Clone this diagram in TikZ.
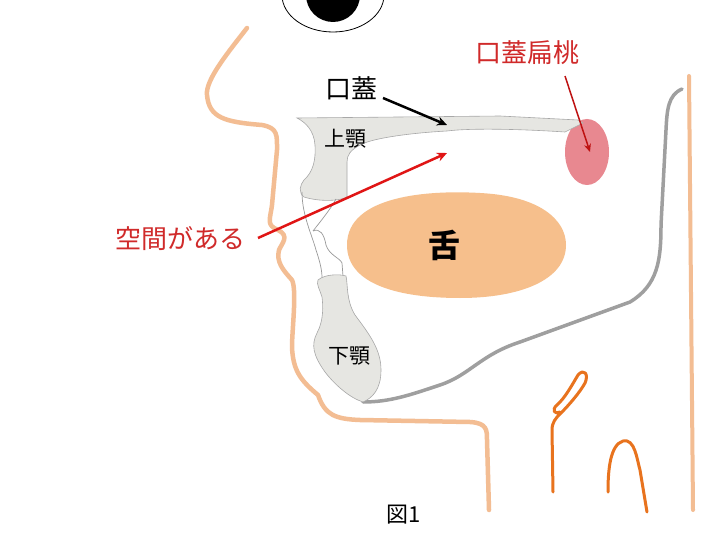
\documentclass[tikz,border=0pt]{standalone}
\usepackage{fontspec}
\newfontfamily\jp{Noto Sans CJK JP}
\usetikzlibrary{arrows.meta}
\definecolor{peach}{HTML}{F3BD93}
\definecolor{tongue}{HTML}{F6BF8C}
\definecolor{bone}{HTML}{E6E6E2}
\definecolor{boneline}{HTML}{A8A8A8}
\definecolor{lblred}{HTML}{D02A2A}
\definecolor{arrred}{HTML}{E01515}
\definecolor{orng}{HTML}{E8731E}
\definecolor{tonsil}{HTML}{E67C85}
\tikzset{
  skin/.style={draw=peach,line width=4.5pt,line cap=round,line join=round},
  bonefill/.style={fill=bone,draw=boneline,line width=0.6pt},
  tooth/.style={draw=gray!80,line width=0.7pt},
  pharynx/.style={draw=gray!75,line width=3.5pt,line cap=round},
  cord/.style={draw=orng,line width=3pt,line cap=round,line join=round},
  lbl/.style={font=\jp,inner sep=0pt},
  redlbl/.style={lbl,text=lblred,font=\jp\fontsize{26}{26}\selectfont},
}
\begin{document}
\begin{tikzpicture}[x=1pt,y=-1pt]
\useasboundingbox (0,0) rectangle (720,540);
\clip (0,0) rectangle (720,540);
\fill[white] (0,0) rectangle (720,540);
% eye
\draw[line width=0.8pt,fill=white] (333,-5) ellipse [x radius=51,y radius=37];
\fill[black] (333,-5) ellipse [x radius=27,y radius=27];
% face profile
\draw[skin] (247,28) .. controls (230,50) and (205,80) .. (207,95)
  .. controls (209,118) and (225,122) .. (262,125)
  .. controls (278,128) and (277,135) .. (277,150)
  -- (272,205) .. controls (270,220) and (266,225) .. (278,230)
  .. controls (290,236) and (282,243) .. (279,250)
  .. controls (276,262) and (283,270) .. (292,280)
  .. controls (297,290) and (292,330) .. (292,347)
  .. controls (293,370) and (300,380) .. (318,395)
  .. controls (325,415) and (335,419) .. (360,420)
  -- (470,422) .. controls (487,423) and (487,430) .. (487,440)
  -- (489,510);
% right vertical line
\draw[skin,line width=4pt] (689,76) -- (693,510);
% pharynx grey
\draw[pharynx] (682,89) .. controls (668,95) and (667,110) .. (666,130)
  -- (661,225) .. controls (661,260) and (658,285) .. (630,302)
  -- (520,342) .. controls (480,355) and (470,375) .. (440,385)
  .. controls (410,395) and (390,402) .. (363,402);
% tonsil
\fill[tonsil,opacity=0.9] (587,152) ellipse [x radius=22,y radius=33];
% maxilla
\path[bonefill] (297,118) -- (500,116) -- (578,120) -- (583,123) -- (565,132)
  .. controls (520,129) and (470,128) .. (447,131)
  .. controls (410,133) and (375,138) .. (362,144)
  .. controls (350,150) and (347,155) .. (347,162)
  -- (347,197) .. controls (340,201) and (320,202) .. (304,197)
  .. controls (298,192) and (300,185) .. (304,180)
  .. controls (313,172) and (316,160) .. (315,145)
  .. controls (314,130) and (305,122) .. (297,118) -- cycle;
% teeth
\draw[tooth] (302,192) .. controls (302,215) and (312,235) .. (316,250)
  .. controls (320,262) and (322,270) .. (322,278);
\draw[tooth] (336,199) .. controls (330,210) and (320,222) .. (313,231);
\draw[tooth] (313,231) .. controls (320,228) and (324,234) .. (326,245)
  .. controls (329,255) and (340,258) .. (342,263) -- (343,276);
% mandible
\path[bonefill] (318,280) .. controls (325,274) and (340,274) .. (346,276)
  .. controls (348,285) and (346,300) .. (355,315)
  .. controls (370,335) and (381,350) .. (381,370)
  .. controls (381,390) and (372,398) .. (363,402)
  .. controls (350,398) and (335,385) .. (325,372)
  .. controls (313,355) and (311,345) .. (317,333)
  .. controls (324,320) and (323,305) .. (322,297)
  .. controls (320,290) and (316,284) .. (318,280) -- cycle;
% tongue
\fill[tongue] (347,245) .. controls (347,195) and (430,190) .. (480,193)
  .. controls (540,196) and (566,220) .. (566,245)
  .. controls (566,280) and (520,298) .. (460,298)
  .. controls (400,298) and (347,285) .. (347,245) -- cycle;
% epiglottis / cords
\draw[cord] (553,492) -- (552,430) .. controls (552,422) and (556,418) .. (560,414)
  .. controls (570,404) and (580,392) .. (585,383)
  .. controls (589,374) and (584,368) .. (578,375)
  .. controls (572,385) and (565,398) .. (557,405)
  .. controls (551,410) and (555,415) .. (560,412);
\draw[cord] (608,492) .. controls (608,470) and (610,445) .. (623,441)
  .. controls (635,438) and (637,460) .. (640,470) -- (647,512);
% labels
\node[lbl,font=\jp\fontsize{21}{21}\selectfont] (maxlbl) at (345,139) {上顎};
\node[lbl,font=\jp\fontsize{21}{21}\selectfont] (mandlbl) at (349,356) {下顎};
\node[lbl,font=\jp\bfseries\fontsize{32}{32}\selectfont] (tonguelbl) at (444,245) {舌};
\node[lbl,font=\jp\fontsize{26}{26}\selectfont] (palatelbl) at (351,88) {口蓋};
\node[redlbl] (spacelbl) at (180,239) {空間がある};
\node[redlbl] (tonsillbl) at (527,53) {口蓋扁桃};
\node[lbl,font=\jp\fontsize{22}{22}\selectfont] (fig) at (404,515) {図1};
\coordinate (palatept) at (447,125);
\coordinate (spacept) at (447,153);
\coordinate (tonsilpt) at (590,152);
% arrows
\draw[line width=2.5pt,-{Stealth[length=10pt,width=9pt]}] (383,98) -- (palatept);
\draw[arrred,line width=2.5pt,-{Stealth[length=10pt,width=9pt]}] (258,238) -- (spacept);
\draw[arrred!85!black,line width=1.5pt,-{Stealth[length=8pt,width=7pt]}] (565,76) -- (tonsilpt);
\end{tikzpicture}
\end{document}
